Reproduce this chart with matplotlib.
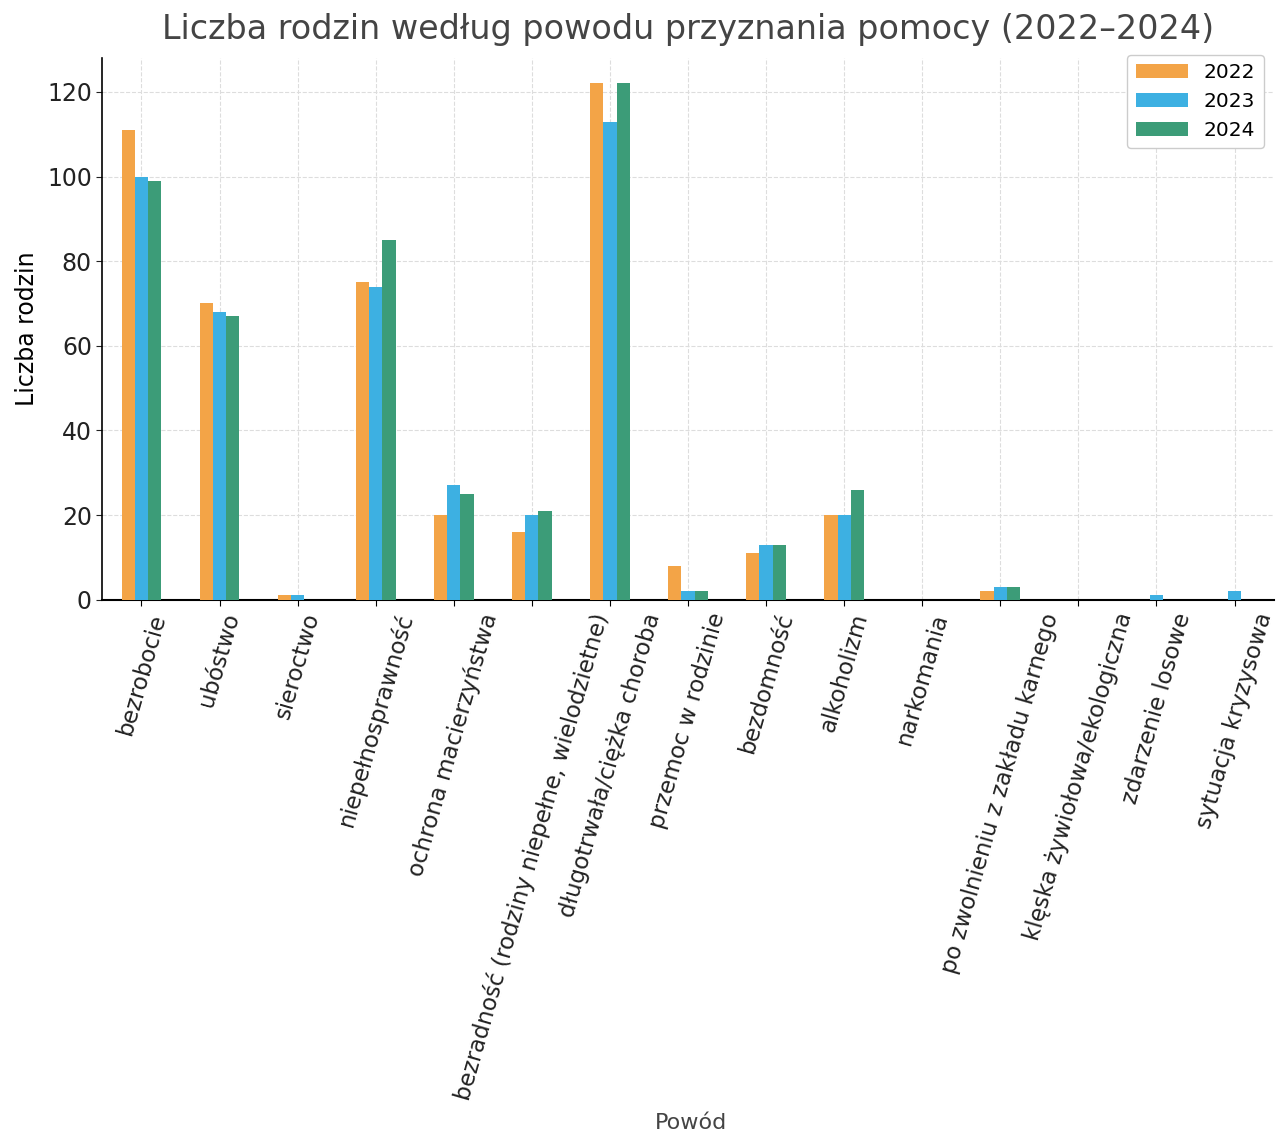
import numpy as np
import matplotlib
matplotlib.use("Agg")
import matplotlib.pyplot as plt

# powody przyznania pomocy
powody = [
    "bezrobocie",
    "ubóstwo",
    "sieroctwo",
    "niepełnosprawność",
    "ochrona macierzyństwa",
    "bezradność (rodziny niepełne, wielodzietne)",
    "długotrwała/ciężka choroba",
    "przemoc w rodzinie",
    "bezdomność",
    "alkoholizm",
    "narkomania",
    "po zwolnieniu z zakładu karnego",
    "klęska żywiołowa/ekologiczna",
    "zdarzenie losowe",
    "sytuacja kryzysowa",
]

lata = ["2022", "2023", "2024"]
rok_2022 = [111, 70, 1, 75, 20, 16, 122, 8, 11, 20, 0, 2, 0, 0, 0]
rok_2023 = [100, 68, 1, 74, 27, 20, 113, 2, 13, 20, 0, 3, 0, 1, 2]
rok_2024 = [99, 67, 0, 85, 25, 21, 122, 2, 13, 26, 0, 3, 0, 0, 0]

kolory = ["#F3A447", "#3DB0E2", "#3C9C78"]

fig = plt.figure(figsize=(12.8, 11.38), dpi=100)
ax = fig.add_axes([0.08, 0.473, 0.915, 0.476])

x = np.arange(len(powody))
w = 0.17
for i, (vals, rok) in enumerate(zip([rok_2022, rok_2023, rok_2024], lata)):
    ax.bar(x + (i - 1) * w, vals, width=w, color=kolory[i], label=rok, zorder=3)

ax.set_xlim(-0.5, len(powody) - 0.5)
ax.set_ylim(0, 128)
ax.set_yticks([0, 20, 40, 60, 80, 100, 120])
ax.set_xticks(x)
ax.set_xticklabels(powody, rotation=74, ha="center", fontsize=16.5, color="#222222")
ax.tick_params(axis="y", labelsize=17, colors="#222222")
ax.tick_params(axis="both", length=4)
ax.grid(True, color="#dddddd", linestyle="--", linewidth=0.8, zorder=0)
ax.spines["top"].set_visible(False)
ax.spines["right"].set_visible(False)
ax.spines["left"].set_linewidth(1.2)
ax.spines["bottom"].set_linewidth(1.5)

ax.set_title("Liczba rodzin według powodu przyznania pomocy (2022–2024)", fontsize=24, color="#444444", pad=14)
ax.set_ylabel("Liczba rodzin", fontsize=17, labelpad=6)
fig.text(0.54, 0.008, "Powód", fontsize=16, ha="center", color="#444444")
ax.legend(loc="upper right", bbox_to_anchor=(1.0, 1.025), fontsize=14.5,
          handlelength=2.6, framealpha=1)

fig.savefig("out.png", dpi=100)
